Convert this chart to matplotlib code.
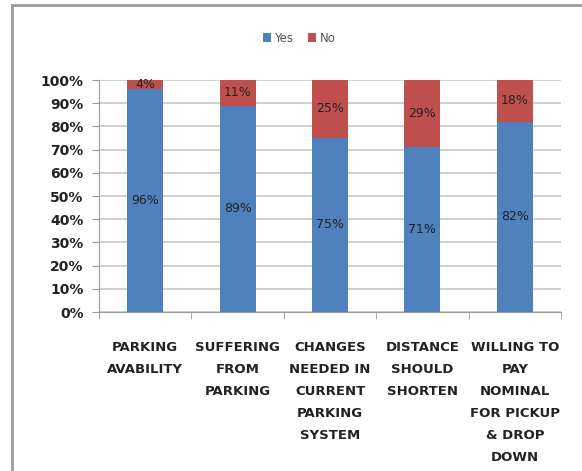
import matplotlib.pyplot as plt
from matplotlib.patches import Rectangle

categories = [
    "PARKING\nAVABILITY",
    "SUFFERING\nFROM\nPARKING",
    "CHANGES\nNEEDED IN\nCURRENT\nPARKING\nSYSTEM",
    "DISTANCE\nSHOULD\nSHORTEN",
    "WILLING TO\nPAY\nNOMINAL\nFOR PICKUP\n& DROP\nDOWN",
]
yes_vals = [96, 89, 75, 71, 82]
no_vals = [4, 11, 25, 29, 18]

BLUE = "#4F81BD"
RED = "#C0504D"

fig = plt.figure(figsize=(5.82, 4.71), dpi=100)
ax = fig.add_axes([99 / 582, 1 - 312 / 471, 462 / 582, 232 / 471])

# outer chart border (left and top edges visible)
fig.patches.append(Rectangle((12 / 582, -0.1), 1.2, 1 - 5 / 471 + 0.1,
                             transform=fig.transFigure, fill=False,
                             edgecolor="#9a9a9a", linewidth=2.0))

x = range(len(categories))
w = 0.39
b1 = ax.bar(x, yes_vals, width=w, color=BLUE, label="Yes", zorder=3)
b2 = ax.bar(x, no_vals, width=w, bottom=yes_vals, color=RED, label="No", zorder=3)

for i, (y, n) in enumerate(zip(yes_vals, no_vals)):
    ax.text(i, y / 2, f"{y}%", ha="center", va="center", fontsize=9,
            color="#222222", zorder=4)
    ax.text(i, y + n / 2, f"{n}%", ha="center", va="center", fontsize=9,
            color="#222222", zorder=4)

ax.set_xlim(-0.5, len(categories) - 0.5)
ax.set_ylim(0, 100)
ax.set_yticks(range(0, 101, 10))
ax.set_yticklabels([f"{v}%" for v in range(0, 101, 10)], fontsize=10,
                   fontweight="bold", color="#222222")
ax.set_xticks(x)
ax.set_xticklabels(categories, fontsize=9.5, fontweight="bold",
                   color="#222222", linespacing=1.9, va="top")
ax.set_xticks([i + 0.5 for i in range(-1, len(categories))], minor=True)
ax.tick_params(axis="x", which="major", length=0, pad=21)
ax.tick_params(axis="x", which="minor", length=5, color="#9a9a9a")
ax.tick_params(axis="y", length=5, color="#9a9a9a", pad=6)

ax.grid(axis="y", color="#c8c8c8", linewidth=1.2, zorder=0)
for side in ["top", "right"]:
    ax.spines[side].set_visible(False)
for side in ["left", "bottom"]:
    ax.spines[side].set_color("#9a9a9a")

leg = fig.legend(handles=[b1, b2], labels=["Yes", "No"], loc="center",
                 bbox_to_anchor=(299 / 582, 1 - 38 / 471), ncol=2,
                 frameon=False, fontsize=8.5, handlelength=0.7,
                 handleheight=0.7, handletextpad=0.3, columnspacing=1.2)
for t in leg.get_texts():
    t.set_color("#555555")

fig.savefig("out.png", dpi=100)
